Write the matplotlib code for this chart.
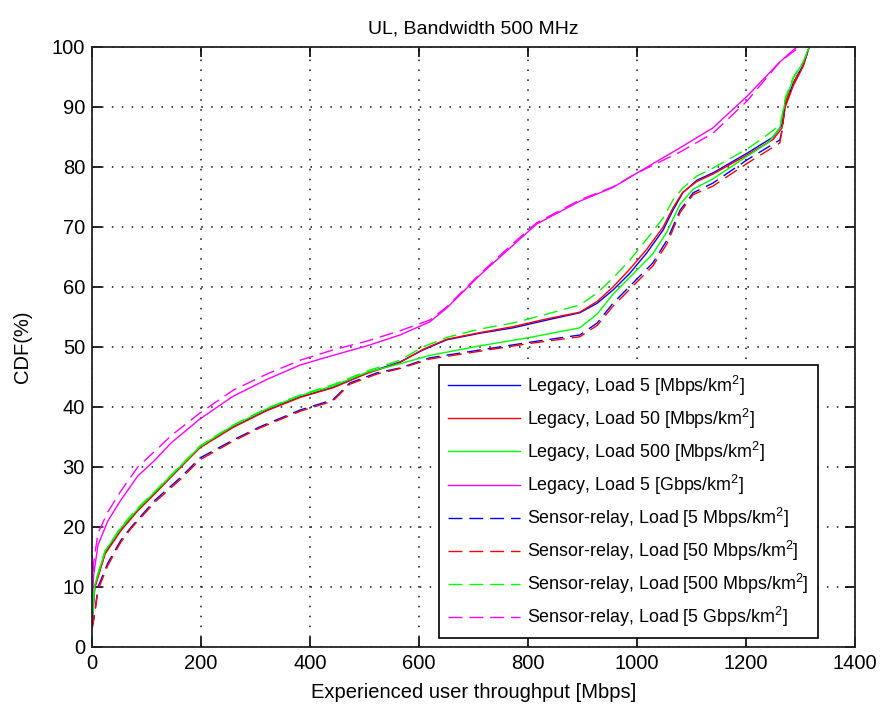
import matplotlib
matplotlib.use("Agg")
import matplotlib.pyplot as plt

plt.rcParams['font.family'] = ['Liberation Sans', 'DejaVu Sans']
plt.rcParams['mathtext.default'] = 'regular'

title = "UL, Bandwidth 500 MHz"
xlabel = "Experienced user throughput [Mbps]"
ylabel = "CDF(%)"

labels = [
    "Legacy, Load 5 [Mbps/km$^2$]",
    "Legacy, Load 50 [Mbps/km$^2$]",
    "Legacy, Load 500 [Mbps/km$^2$]",
    "Legacy, Load 5 [Gbps/km$^2$]",
    "Sensor-relay, Load [5 Mbps/km$^2$]",
    "Sensor-relay, Load [50 Mbps/km$^2$]",
    "Sensor-relay, Load [500 Mbps/km$^2$]",
    "Sensor-relay, Load [5 Gbps/km$^2$]",
]

# --- Legacy 5 Mbps (blue, solid)
leg5_x = [0, 5, 24, 53, 84, 116, 152, 198, 259, 321, 382, 442, 505, 565, 607, 651, 712, 773, 835, 895, 927, 956, 987, 1018, 1048, 1066, 1084, 1110, 1139, 1202, 1250, 1266, 1272, 1287, 1305, 1316]
leg5_y = [4, 10, 15.7, 19.5, 22.8, 25.7, 29, 33.3, 36.7, 39.5, 41.7, 43.3, 45.7, 47.5, 49.5, 51.2, 52.3, 53.2, 54.5, 55.7, 57.3, 59.5, 62.3, 65.7, 69.5, 72.8, 75.7, 77.8, 79, 82.3, 85, 87, 90.5, 94, 97, 100]
# --- Legacy 50 Mbps (red, solid)
leg50_x = [0, 5, 24, 53, 84, 116, 152, 198, 259, 321, 382, 442, 505, 565, 607, 651, 712, 773, 835, 895, 927, 956, 987, 1018, 1048, 1066, 1084, 1110, 1139, 1202, 1250, 1266, 1272, 1287, 1305, 1316]
leg50_y = [3.8, 9.8, 15.5, 19.4, 22.7, 25.6, 29, 33.2, 36.6, 39.4, 41.6, 43.2, 45.6, 47.4, 49.6, 51.3, 52.4, 53.4, 54.7, 55.8, 57.6, 60, 63, 66.3, 70, 73.2, 75.8, 77.6, 78.8, 82, 84.6, 86.5, 90, 93.6, 96.8, 100]
# --- Legacy 500 Mbps (green, solid)
leg500_x = [0, 5, 24, 53, 84, 116, 152, 198, 259, 321, 382, 442, 505, 565, 620, 712, 804, 895, 927, 956, 993, 1029, 1055, 1079, 1103, 1139, 1202, 1240, 1262, 1272, 1287, 1305, 1316]
leg500_y = [4.5, 10.3, 16, 19.8, 23, 25.9, 29.2, 33.4, 36.9, 39.7, 41.9, 43.5, 45.8, 47.2, 48.6, 50.2, 51.6, 53.2, 55.5, 58.8, 62.2, 65.5, 69.2, 73.8, 76.3, 78, 81.8, 84, 86.5, 91, 94.8, 97.5, 100]
# --- Legacy 5 Gbps (magenta, solid)
leg5g_x = [0, 3, 11, 29, 53, 84, 116, 145, 198, 259, 321, 382, 442, 505, 565, 620, 651, 712, 773, 816, 895, 956, 1000, 1079, 1139, 1202, 1262, 1293]
leg5g_y = [7, 12, 17, 21, 24.5, 28.5, 31.2, 34, 38, 41.8, 44.6, 47, 48.6, 50.2, 52, 54.2, 56.5, 62, 67, 70.5, 74.3, 76.6, 79, 83.2, 86.5, 91.8, 97.5, 100]

# --- Sensor-relay 5 Mbps (blue, dashed)
sr5_x = [0, 5, 11, 29, 53, 72, 116, 163, 198, 259, 308, 382, 442, 473, 523, 565, 620, 712, 804, 895, 927, 956, 993, 1029, 1055, 1079, 1103, 1139, 1202, 1262, 1266, 1272, 1287, 1305, 1316]
sr5_y = [3, 5.7, 10, 14, 17.8, 20, 24.5, 28.3, 31.5, 34.5, 36.7, 39.5, 41.2, 44, 45.7, 46.5, 48.2, 49.5, 50.8, 52, 54, 57.3, 60.7, 64, 67.8, 72.8, 75.7, 77.3, 81.2, 84.5, 86, 90.5, 94, 97, 100]
# --- Sensor-relay 50 Mbps (red, dashed)
sr50_x = [0, 5, 11, 29, 53, 72, 116, 163, 198, 259, 308, 382, 442, 473, 523, 565, 620, 712, 804, 895, 927, 956, 993, 1029, 1055, 1079, 1103, 1139, 1202, 1262, 1266, 1272, 1287, 1305, 1316]
sr50_y = [3, 5.5, 9.5, 13.6, 17.5, 19.8, 24.2, 28, 31.2, 34.3, 36.5, 39.3, 41, 43.8, 45.5, 46.4, 48, 49.3, 50.6, 51.7, 53.6, 56.8, 60.2, 63.5, 67.2, 72.4, 75.4, 76.8, 80.6, 84, 86, 90.5, 94, 97, 100]
# --- Sensor-relay 500 Mbps (green, dashed)
sr500_x = [0, 5, 24, 53, 84, 116, 152, 198, 259, 321, 382, 442, 505, 565, 607, 651, 712, 773, 835, 895, 927, 956, 987, 1018, 1048, 1066, 1084, 1110, 1139, 1202, 1231, 1262, 1266, 1272, 1287, 1305, 1316]
sr500_y = [4.5, 10.5, 16, 20, 23.2, 26, 29.3, 33.5, 37, 39.8, 42, 43.7, 46, 47.8, 50, 51.6, 53, 54, 55.5, 57, 59, 61.5, 64.5, 68, 71.5, 74.5, 76.5, 78.5, 79.8, 83, 84.8, 87, 88.5, 91.5, 95, 97.5, 100]
# --- Sensor-relay 5 Gbps (magenta, dashed)
sr5g_x = [0, 3, 11, 29, 53, 84, 116, 145, 198, 259, 321, 382, 442, 505, 565, 620, 651, 712, 773, 816, 895, 956, 1000, 1079, 1139, 1202, 1262, 1298]
sr5g_y = [9, 14, 19, 22.5, 26, 30, 32.7, 35.2, 39, 42.8, 45.5, 47.8, 49.5, 51, 52.7, 54.5, 56.7, 62.2, 67.3, 70.7, 74.5, 76.7, 79, 82.5, 85.6, 91, 97.5, 100]

xticks = [0, 200, 400, 600, 800, 1000, 1200, 1400]
yticks = [0, 10, 20, 30, 40, 50, 60, 70, 80, 90, 100]

series = [
    (leg5_x, leg5_y, (0, 0, 1), '-'),
    (leg50_x, leg50_y, (1, 0, 0), '-'),
    (leg500_x, leg500_y, (0, 1, 0), '-'),
    (leg5g_x, leg5g_y, (1, 0, 1), '-'),
    (sr5_x, sr5_y, (0, 0, 1), '--'),
    (sr50_x, sr50_y, (1, 0, 0), '--'),
    (sr500_x, sr500_y, (0, 1, 0), '--'),
    (sr5g_x, sr5g_y, (1, 0, 1), '--'),
]

fig = plt.figure(figsize=(8.8, 7.12), dpi=100, facecolor='white')
ax = fig.add_axes([92/880, 65/712, 763/880, 600/712])

for (xs, ys, c, ls), lab in zip(series, labels):
    kw = dict(color=c, lw=1.0, label=lab)
    if ls == '--':
        ax.plot(xs, ys, dashes=(10, 5), **kw)
    else:
        ax.plot(xs, ys, '-', **kw)

ax.set_xlim(0, 1400)
ax.set_ylim(0, 100)
ax.set_xticks(xticks)
ax.set_yticks(yticks)
ax.tick_params(direction='in', length=7, width=1.2, top=True, right=True,
               labelsize=14.5, colors='black', pad=5)
for s in ax.spines.values():
    s.set_linewidth(1.3)
    s.set_color('#222222')
ax.grid(True, color='#111111', linestyle=(0, (1, 5.5)), linewidth=1.1)
ax.set_axisbelow(True)

ax.set_title(title, fontsize=14, pad=10)
ax.set_xlabel(xlabel, fontsize=14.5, labelpad=7)
ax.set_ylabel(ylabel, fontsize=14.5, labelpad=14)

leg = ax.legend(loc='lower right', bbox_to_anchor=(0.951, 0.015), fontsize=12.9,
                handlelength=4.0, handletextpad=0.4, labelspacing=0.5,
                borderpad=0.5, borderaxespad=0, fancybox=False, framealpha=1,
                edgecolor='black')
leg.get_frame().set_linewidth(1.2)

fig.savefig('out.png', dpi=100, facecolor='white')
